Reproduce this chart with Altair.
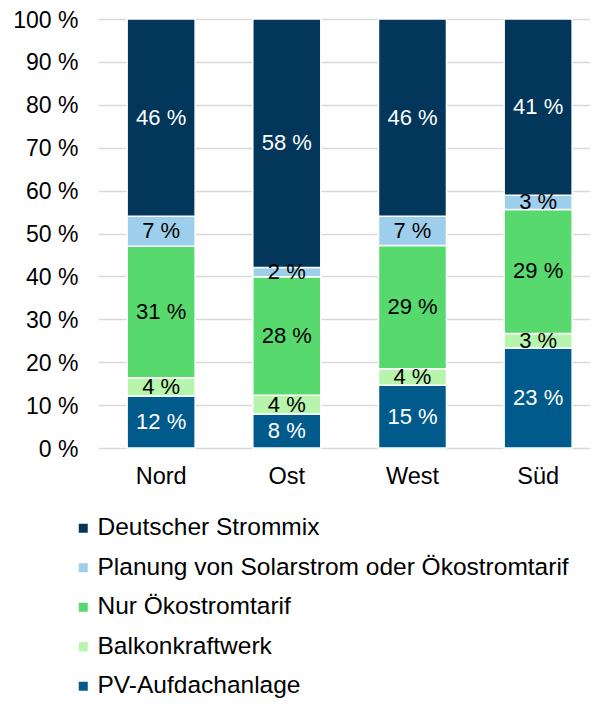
import altair as alt
import pandas as pd

regions = ["Nord", "Ost", "West", "Süd"]
categories = [
    "PV-Aufdachanlage",
    "Balkonkraftwerk",
    "Nur Ökostromtarif",
    "Planung von Solarstrom oder Ökostromtarif",
    "Deutscher Strommix",
]
pv = [12.1, 7.9, 14.6, 23.3]
balkon = [4.3, 4.4, 3.9, 3.4]
nur_oeko = [30.6, 27.6, 28.7, 28.9]
planung = [7.0, 2.2, 6.8, 3.3]
strommix = [46.0, 57.9, 46.0, 41.1]

colors = ["#005A8C", "#B7F5AD", "#58D96E", "#9DCFEC", "#02365A"]
text_colors = ["white", "black", "black", "black", "white"]

series = [pv, balkon, nur_oeko, planung, strommix]
rows = []
for ci, (cat, vals) in enumerate(zip(categories, series)):
    for r, v in zip(regions, vals):
        rows.append({"region": r, "cat": cat, "value": v, "idx": ci,
                     "tcol": text_colors[ci]})
df = pd.DataFrame(rows)

FONT = "Liberation Sans"
legend_order = categories[::-1]
legend_colors = colors[::-1]

base = alt.Chart(df).transform_stack(
    stack="value", groupby=["region"], as_=["y0", "y1"],
    sort=[alt.SortField("idx", order="ascending")]
).transform_calculate(
    ymid="(datum.y0 + datum.y1) / 2",
    label="format(datum.value, '.0f') + ' %'"
)

xscale = alt.Scale(paddingInner=0.459, paddingOuter=0.187, align=0.62)

xenc = alt.X("region:N", sort=regions, title=None, scale=xscale,
             axis=alt.Axis(labelAngle=0, ticks=False, domain=False,
                           labelFontSize=23.5, labelFont=FONT, labelColor="black",
                           labelPadding=16))

bars = base.mark_bar(stroke="white", strokeWidth=1.5).encode(
    x=xenc,
    y=alt.Y("y0:Q", title=None,
            scale=alt.Scale(domain=[0, 100], nice=False),
            axis=alt.Axis(values=list(range(0, 101, 10)), labelExpr="datum.value + ' %'",
                          ticks=False, domain=False, grid=True,
                          gridColor="#D9D9D9", gridWidth=1.5,
                          labelFontSize=23, labelFont=FONT, labelColor="black",
                          labelPadding=20, labelOffset=1)),
    y2="y1:Q",
    color=alt.Color("cat:N",
                    scale=alt.Scale(domain=legend_order, range=legend_colors),
                    legend=alt.Legend(title=None, orient="none", legendX=-27, legendY=497,
                                      direction="vertical", symbolType="square",
                                      symbolSize=81, symbolStrokeWidth=0,
                                      labelFontSize=24.5, labelFont=FONT, labelColor="black",
                                      labelOffset=2, rowPadding=14.5, padding=0,
                                      labelLimit=600)),
)

texts = base.mark_text(fontSize=22, font=FONT, baseline="middle", align="center").encode(
    x=alt.X("region:N", sort=regions),
    y=alt.Y("ymid:Q"),
    text="label:N",
    color=alt.Color("tcol:N", scale=None),
)

chart = alt.layer(bars, texts).properties(
    width=492, height=429,
    autosize=alt.AutoSizeParams(type="none"),
    padding={"left": 90, "top": 11, "right": 0, "bottom": 252},
).configure_view(stroke=None)

chart.save("out.html", embed_options={"renderer": "svg", "actions": False})
